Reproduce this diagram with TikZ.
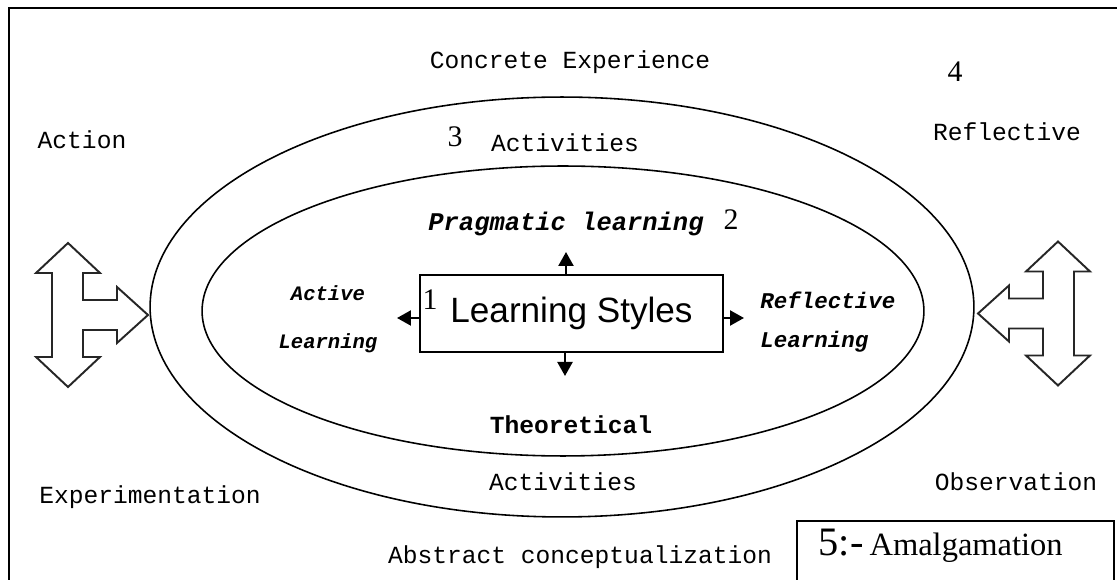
\documentclass[tikz,border=0pt]{standalone}
\usepackage{fontspec}
\setmainfont{Liberation Serif}
\setsansfont{Liberation Sans}
\setmonofont{Liberation Mono}
\usetikzlibrary{arrows.meta}

\tikzset{
  mono/.style={font=\ttfamily\fontsize{14pt}{16pt}\selectfont, inner sep=0pt},
  monob/.style={font=\ttfamily\bfseries\fontsize{14pt}{16pt}\selectfont, inner sep=0pt},
  monobi/.style 2 args={font=\ttfamily\bfseries\itshape\fontsize{#1}{#2}\selectfont, inner sep=0pt},
  num/.style={font=\rmfamily\fontsize{17pt}{19pt}\selectfont, inner sep=0pt},
  ring/.style={draw, line width=0.9pt},
  bigarrow/.style={draw=black!85, line width=1.1pt, fill=white},
  small/.style={-{Triangle[length=0.28cm,width=0.3cm]}, line width=1.3pt},
}

\begin{document}
\begin{tikzpicture}[x=0.02cm,y=-0.02cm]
\useasboundingbox (0,0) rectangle (1117,580);
\draw[line width=1.4pt] (9,580) |- (1117,8);

\draw[ring] (562,307) ellipse [x radius=8.24cm, y radius=4.2cm];
\draw[ring] (563,311) ellipse [x radius=7.22cm, y radius=2.9cm];

\foreach \px/\py/\dir in {68/315/1, 1058/313.5/-1}{
  \begin{scope}[shift={(\px,\py)}, xscale=\dir]
    \draw[bigarrow] (0,-72) -- (32,-42) -- (15,-42) -- (15,-15) -- (49,-15) -- (49,-28)
      -- (80,0) -- (49,28) -- (49,15) -- (15,15) -- (15,42) -- (32,42) -- (0,72)
      -- (-32,42) -- (-16,42) -- (-16,-42) -- (-32,-42) -- cycle;
  \end{scope}
}

\node[draw, line width=0.9pt, minimum width=6.06cm, minimum height=1.54cm,
      font=\sffamily\fontsize{20pt}{22pt}\selectfont] (ls) at (571.5,313.5) {Learning Styles};
\node[num] (one) at (430,300) {1};

\coordinate (up) at (566,252);
\coordinate (dn) at (565,376);
\coordinate (lf) at (397,318);
\coordinate (rt) at (744,318);

\path[small]
  (up |- ls.north) edge (up)
  (dn |- ls.south) edge (dn)
  (ls.west |- lf) edge (lf)
  (ls.east |- rt) edge (rt);

\node[mono] (ce) at (570,62) {Concrete Experience};
\node[num] (four) at (955,72) {4};
\node[mono] (act) at (82,140) {Action};
\node[num] (three) at (455,137) {3};
\node[mono] (acttop) at (565,143) {Activities};
\node[mono] (refl) at (1007,132) {Reflective};
\node[monobi={14.5pt}{16pt}] (prag) at (566,224) {Pragmatic learning};
\node[num] (two) at (731,220) {2};
\node[monobi={11.7pt}{27.3pt}, align=center] (actl) at (328,319) {Active\\Learning};
\node[monobi={12.8pt}{22.2pt}, align=left, anchor=west] (refll) at (760,322) {Reflective\\Learning};
\node[monob] (theo) at (571,425) {Theoretical};
\node[mono] (actbot) at (563,482) {Activities};
\node[mono] (abs) at (580,557) {Abstract conceptualization};
\node[mono] (exp) at (150,497) {Experimentation};
\node[mono] (obs) at (1016,482) {Observation};

\node[draw, line width=0.9pt, anchor=north west, text width=5.46cm, align=left,
      inner xsep=0.44cm, inner ysep=0.14cm, text height=0.56cm, text depth=0.9cm] (amal) at (796,520)
  {\fontsize{23pt}{25pt}\selectfont 5:-\fontsize{18.5pt}{20pt}\selectfont{} Amalgamation};
\end{tikzpicture}
\end{document}
